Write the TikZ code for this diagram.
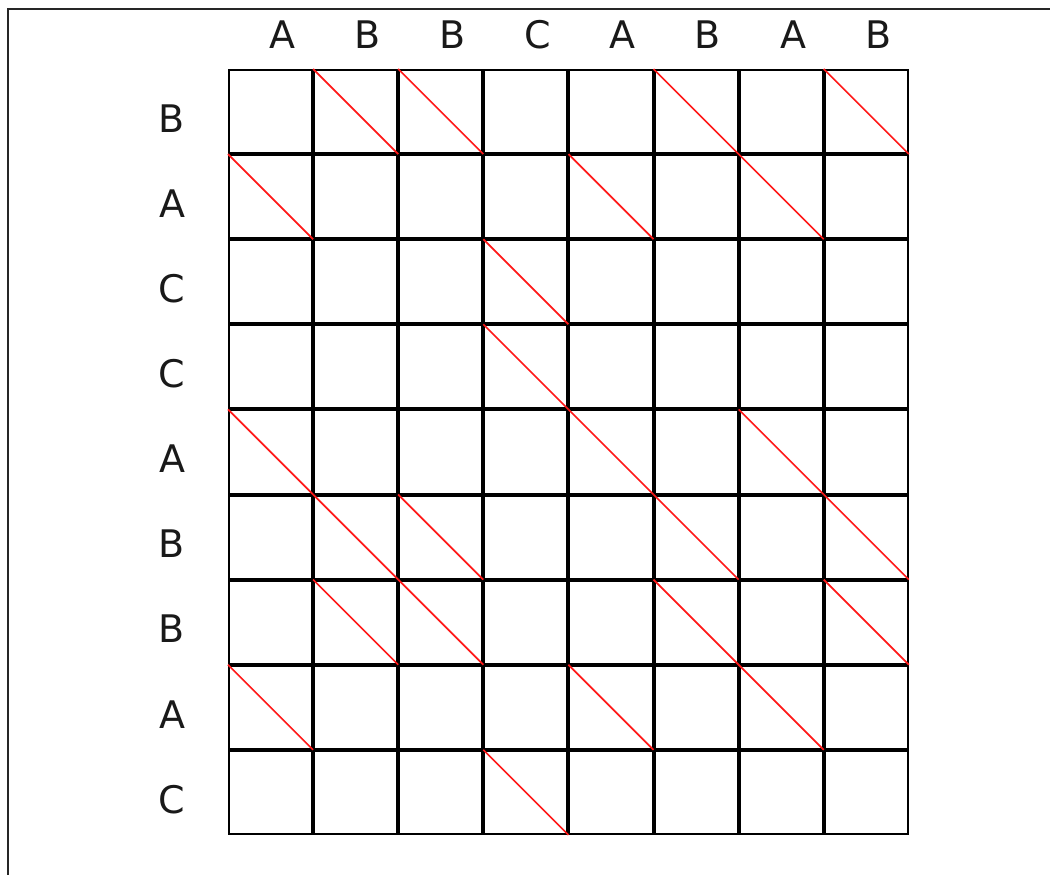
\documentclass[tikz,border=0pt]{standalone}
\usepackage{fontspec}
\setmainfont{DejaVu Sans}
\usepackage{xcolor}
\usepackage{tikz}
\usetikzlibrary{positioning}

\begin{document}
\begin{tikzpicture}[
    x=1pt, y=-1pt,
    cell/.style={draw, line width=2pt, minimum size=83.1pt, inner sep=0pt},
    seqlabel/.style={font=\fontsize{38}{40}\selectfont, text=black!90},
    match/.style={red!90!white, line width=1.7pt},
    frame/.style={black!85, line width=1.5pt}
]

\useasboundingbox (0,0) rectangle (1050,875);
\coordinate (ftop) at (1050,9);
\coordinate (fcorner) at (8,9);
\coordinate (fbottom) at (8,875);
\draw[frame] (ftop) -- (fcorner) -- (fbottom);

% top sequence
\node[seqlabel] (t1) at (282.5, 35) {A};
\node[seqlabel] (t2) at (367.6, 35) {B};
\node[seqlabel] (t3) at (452.7, 35) {B};
\node[seqlabel] (t4) at (537.8, 35) {C};
\node[seqlabel] (t5) at (622.9, 35) {A};
\node[seqlabel] (t6) at (708.0, 35) {B};
\node[seqlabel] (t7) at (793.1, 35) {A};
\node[seqlabel] (t8) at (878.2, 35) {B};

% left sequence
\node[seqlabel] (s1) at (172, 118.5) {B};
\node[seqlabel] (s2) at (172, 203.6) {A};
\node[seqlabel] (s3) at (172, 288.7) {C};
\node[seqlabel] (s4) at (172, 373.8) {C};
\node[seqlabel] (s5) at (172, 458.9) {A};
\node[seqlabel] (s6) at (172, 544.0) {B};
\node[seqlabel] (s7) at (172, 629.1) {B};
\node[seqlabel] (s8) at (172, 714.2) {A};
\node[seqlabel] (s9) at (172, 799.3) {C};

% grid cells
\node[cell] (m11) at (270.55, 111.55) {};
\node[cell] (m12) at (355.65, 111.55) {};
\node[cell] (m13) at (440.75, 111.55) {};
\node[cell] (m14) at (525.85, 111.55) {};
\node[cell] (m15) at (610.95, 111.55) {};
\node[cell] (m16) at (696.05, 111.55) {};
\node[cell] (m17) at (781.15, 111.55) {};
\node[cell] (m18) at (866.25, 111.55) {};

\node[cell] (m21) at (270.55, 196.65) {};
\node[cell] (m22) at (355.65, 196.65) {};
\node[cell] (m23) at (440.75, 196.65) {};
\node[cell] (m24) at (525.85, 196.65) {};
\node[cell] (m25) at (610.95, 196.65) {};
\node[cell] (m26) at (696.05, 196.65) {};
\node[cell] (m27) at (781.15, 196.65) {};
\node[cell] (m28) at (866.25, 196.65) {};

\node[cell] (m31) at (270.55, 281.75) {};
\node[cell] (m32) at (355.65, 281.75) {};
\node[cell] (m33) at (440.75, 281.75) {};
\node[cell] (m34) at (525.85, 281.75) {};
\node[cell] (m35) at (610.95, 281.75) {};
\node[cell] (m36) at (696.05, 281.75) {};
\node[cell] (m37) at (781.15, 281.75) {};
\node[cell] (m38) at (866.25, 281.75) {};

\node[cell] (m41) at (270.55, 366.85) {};
\node[cell] (m42) at (355.65, 366.85) {};
\node[cell] (m43) at (440.75, 366.85) {};
\node[cell] (m44) at (525.85, 366.85) {};
\node[cell] (m45) at (610.95, 366.85) {};
\node[cell] (m46) at (696.05, 366.85) {};
\node[cell] (m47) at (781.15, 366.85) {};
\node[cell] (m48) at (866.25, 366.85) {};

\node[cell] (m51) at (270.55, 451.95) {};
\node[cell] (m52) at (355.65, 451.95) {};
\node[cell] (m53) at (440.75, 451.95) {};
\node[cell] (m54) at (525.85, 451.95) {};
\node[cell] (m55) at (610.95, 451.95) {};
\node[cell] (m56) at (696.05, 451.95) {};
\node[cell] (m57) at (781.15, 451.95) {};
\node[cell] (m58) at (866.25, 451.95) {};

\node[cell] (m61) at (270.55, 537.05) {};
\node[cell] (m62) at (355.65, 537.05) {};
\node[cell] (m63) at (440.75, 537.05) {};
\node[cell] (m64) at (525.85, 537.05) {};
\node[cell] (m65) at (610.95, 537.05) {};
\node[cell] (m66) at (696.05, 537.05) {};
\node[cell] (m67) at (781.15, 537.05) {};
\node[cell] (m68) at (866.25, 537.05) {};

\node[cell] (m71) at (270.55, 622.15) {};
\node[cell] (m72) at (355.65, 622.15) {};
\node[cell] (m73) at (440.75, 622.15) {};
\node[cell] (m74) at (525.85, 622.15) {};
\node[cell] (m75) at (610.95, 622.15) {};
\node[cell] (m76) at (696.05, 622.15) {};
\node[cell] (m77) at (781.15, 622.15) {};
\node[cell] (m78) at (866.25, 622.15) {};

\node[cell] (m81) at (270.55, 707.25) {};
\node[cell] (m82) at (355.65, 707.25) {};
\node[cell] (m83) at (440.75, 707.25) {};
\node[cell] (m84) at (525.85, 707.25) {};
\node[cell] (m85) at (610.95, 707.25) {};
\node[cell] (m86) at (696.05, 707.25) {};
\node[cell] (m87) at (781.15, 707.25) {};
\node[cell] (m88) at (866.25, 707.25) {};

\node[cell] (m91) at (270.55, 792.35) {};
\node[cell] (m92) at (355.65, 792.35) {};
\node[cell] (m93) at (440.75, 792.35) {};
\node[cell] (m94) at (525.85, 792.35) {};
\node[cell] (m95) at (610.95, 792.35) {};
\node[cell] (m96) at (696.05, 792.35) {};
\node[cell] (m97) at (781.15, 792.35) {};
\node[cell] (m98) at (866.25, 792.35) {};

% matches
\draw[match] (m12.north west) -- (m12.south east);
\draw[match] (m13.north west) -- (m13.south east);
\draw[match] (m16.north west) -- (m16.south east);
\draw[match] (m18.north west) -- (m18.south east);

\draw[match] (m21.north west) -- (m21.south east);
\draw[match] (m25.north west) -- (m25.south east);
\draw[match] (m27.north west) -- (m27.south east);

\draw[match] (m34.north west) -- (m34.south east);

\draw[match] (m44.north west) -- (m44.south east);

\draw[match] (m51.north west) -- (m51.south east);
\draw[match] (m55.north west) -- (m55.south east);
\draw[match] (m57.north west) -- (m57.south east);

\draw[match] (m62.north west) -- (m62.south east);
\draw[match] (m63.north west) -- (m63.south east);
\draw[match] (m66.north west) -- (m66.south east);
\draw[match] (m68.north west) -- (m68.south east);

\draw[match] (m72.north west) -- (m72.south east);
\draw[match] (m73.north west) -- (m73.south east);
\draw[match] (m76.north west) -- (m76.south east);
\draw[match] (m78.north west) -- (m78.south east);

\draw[match] (m81.north west) -- (m81.south east);
\draw[match] (m85.north west) -- (m85.south east);
\draw[match] (m87.north west) -- (m87.south east);

\draw[match] (m94.north west) -- (m94.south east);

\end{tikzpicture}
\end{document}
